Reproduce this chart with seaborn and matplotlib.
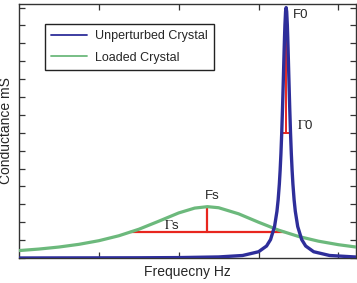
import matplotlib
matplotlib.use("Agg")
import matplotlib.pyplot as plt
import seaborn as sns
import pandas as pd

# Unperturbed crystal (sharp resonance)
blue_x = [0.0, 0.5, 1.0, 1.5, 2.0, 2.5, 2.8, 3.0, 3.1, 3.15, 3.2, 3.23, 3.245, 3.26,
          3.27, 3.28, 3.29, 3.30, 3.31, 3.32, 3.325, 3.33, 3.338, 3.345, 3.352, 3.36,
          3.365, 3.37, 3.38, 3.39, 3.40, 3.41, 3.42, 3.43, 3.445, 3.46, 3.49, 3.54,
          3.59, 3.69, 3.89, 4.22]
blue_y = [0.0, 0.005, 0.008, 0.012, 0.023, 0.059, 0.14, 0.35, 0.67, 1.03, 1.76, 2.61, 3.25, 4.13,
          4.90, 5.84, 7.0, 8.39, 9.96, 11.60, 12.36, 13.03, 13.78, 14.0, 13.78, 13.03,
          12.36, 11.60, 9.96, 8.39, 7.0, 5.84, 4.90, 4.13, 3.25, 2.61, 1.76, 1.03,
          0.67, 0.35, 0.14, 0.055]

# Loaded crystal (broad resonance)
green_x = [0.0, 0.25, 0.5, 0.75, 1.0, 1.25, 1.5, 1.75, 2.0, 2.2, 2.36, 2.5, 2.75,
           3.0, 3.25, 3.5, 3.75, 4.0, 4.22]
green_y = [0.415, 0.50, 0.613, 0.764, 0.967, 1.243, 1.606, 2.056, 2.52, 2.79, 2.87, 2.81, 2.47,
           2.00, 1.558, 1.205, 0.94, 0.744, 0.613]

# Annotation values
F0, peak0, G0_lo, G0_hi = 3.345, 14.0, 3.29, 3.40
Fs, peaks, Gs_lo, Gs_hi = 2.36, 2.87, 1.39, 3.33

blue_c = "#2e2e9a"
green_c = "#6cb97c"
red_c = "#e8261e"

sns.set_style("white")
plt.rcParams["font.family"] = ["Liberation Sans", "DejaVu Sans"]
plt.rcParams["mathtext.fontset"] = "stix"

fig = plt.figure(figsize=(3.57, 2.83), dpi=100)
ax = fig.add_axes([19/357, 25/283, 337/357, 254/283])

df_b = pd.DataFrame({"x": blue_x, "y": blue_y})
df_g = pd.DataFrame({"x": green_x, "y": green_y})

# red markers
ax.plot([F0, F0], [peak0, peak0/2], color=red_c, lw=1.4, zorder=2)
ax.plot([G0_lo, G0_hi], [peak0/2, peak0/2], color=red_c, lw=1.4, zorder=2)
ax.plot([Fs, Fs], [peaks, peaks/2], color=red_c, lw=1.6, zorder=2)
ax.plot([Gs_lo, Gs_hi], [peaks/2, peaks/2], color=red_c, lw=1.6, zorder=2)

sns.lineplot(data=df_g, x="x", y="y", ax=ax, color=green_c, lw=2.3,
             label="Loaded Crystal", zorder=3, sort=False)
sns.lineplot(data=df_b, x="x", y="y", ax=ax, color=blue_c, lw=2.4,
             label="Unperturbed Crystal", zorder=4, sort=False)

ax.set_xlim(0, 4.22)
ax.set_ylim(0, 14.2)
ax.set_xticks([1, 2, 3, 4])
ax.set_yticks(range(0, 15))
ax.tick_params(direction="in", length=4, width=0.9, color="#333333",
               top=True, right=True, bottom=True, left=True,
               labelbottom=False, labelleft=False)
for s in ax.spines.values():
    s.set_color("#333333")
    s.set_linewidth(1.0)

ax.set_xlabel("Frequecny Hz", fontsize=10)
ax.set_ylabel("Conductance mS", fontsize=10)
ax.xaxis.set_label_coords(0.5, -0.028)
ax.yaxis.set_label_coords(-0.018, 0.5)

ax.text(3.43, 13.6, "F0", fontsize=9.5, ha="left", va="center")
ax.text(3.48, 7.43, r"$\Gamma$0", fontsize=9.5, ha="left", va="center")
ax.text(2.415, 3.46, "Fs", fontsize=9.5, ha="center", va="center")
ax.text(1.91, 1.84, r"$\Gamma$s", fontsize=9.5, ha="center", va="center")

h, l = ax.get_legend_handles_labels()
order = [l.index("Unperturbed Crystal"), l.index("Loaded Crystal")]
leg = ax.legend([h[i] for i in order], [l[i] for i in order],
                loc="upper left", bbox_to_anchor=(0.077, 0.921), borderaxespad=0,
                fontsize=9, frameon=True, fancybox=False, handlelength=2.9,
                labelspacing=0.75, borderpad=0.5, handletextpad=0.6)
leg.get_frame().set_edgecolor("#222222")
leg.get_frame().set_linewidth(1.0)
leg.get_frame().set_alpha(1)
for line in leg.get_lines():
    line.set_linewidth(1.3)

fig.savefig("out.png", dpi=100)
